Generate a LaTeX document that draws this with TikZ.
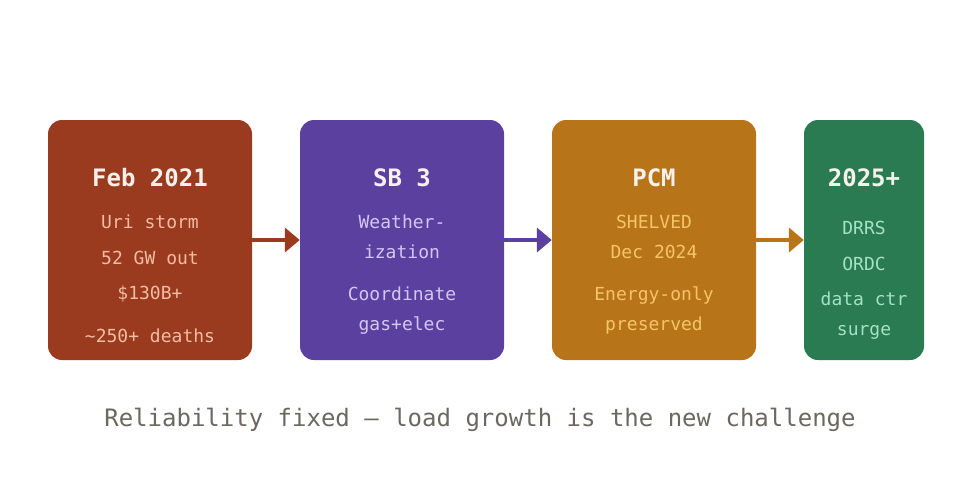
\documentclass[tikz,border=0pt]{standalone}
\usepackage{fontspec}
\setmainfont{DejaVu Sans Mono}
\usetikzlibrary{arrows.meta}
\definecolor{cA}{HTML}{9A3A1E}
\definecolor{cB}{HTML}{5B40A0}
\definecolor{cC}{HTML}{B87418}
\definecolor{cD}{HTML}{2A7A52}
\definecolor{tA}{HTML}{F2BCA4}
\definecolor{tB}{HTML}{D4C6F2}
\definecolor{tC}{HTML}{F6C468}
\definecolor{tD}{HTML}{A4E2C4}
\definecolor{ttl}{HTML}{F8F0EA}
\definecolor{cap}{HTML}{6B6860}
\tikzset{
  card/.style={rounded corners=14pt, minimum height=240pt, inner sep=0pt, draw=none},
  ttext/.style={anchor=base, text=ttl, font=\fontsize{24}{24}\selectfont\bfseries, inner sep=0pt},
  stext/.style={anchor=base, font=\fontsize{18}{18}\selectfont, inner sep=0pt},
  conn/.style={line width=4pt, -{Triangle[length=15pt,width=24pt]}, shorten >=0pt}
}
\begin{document}
\begin{tikzpicture}[x=1pt,y=-1pt]
\useasboundingbox (0,0) rectangle (960,480);
\fill[white] (0,0) rectangle (960,480);
\node[card, fill=cA, minimum width=204pt] (b1) at (150,240) {};
\node[card, fill=cB, minimum width=204pt] (b2) at (402,240) {};
\node[card, fill=cC, minimum width=204pt] (b3) at (654,240) {};
\node[card, fill=cD, minimum width=120pt] (b4) at (864,240) {};
\draw[conn, cA] (b1.east) -- (b2.west);
\draw[conn, cB] (b2.east) -- (b3.west);
\draw[conn, cC] (b3.east) -- (b4.west);
% box 1
\node[ttext] (t1) at (150,186) {Feb 2021};
\node[stext, text=tA] (s11) at (150,228) {Uri storm};
\node[stext, text=tA] (s12) at (150,264) {52 GW out};
\node[stext, text=tA] (s13) at (150,299) {\$130B+};
\node[stext, text=tA] (s14) at (150,342) {\textasciitilde250+ deaths};
% box 2
\node[ttext] (t2) at (402,186) {SB 3};
\node[stext, text=tB] (s21) at (402,228) {Weather-};
\node[stext, text=tB] (s22) at (402,258) {ization};
\node[stext, text=tB] (s23) at (402,300) {Coordinate};
\node[stext, text=tB] (s24) at (402,330) {gas+elec};
% box 3
\node[ttext] (t3) at (654,186) {PCM};
\node[stext, text=tC] (s31) at (654,228) {SHELVED};
\node[stext, text=tC] (s32) at (654,258) {Dec 2024};
\node[stext, text=tC] (s33) at (654,300) {Energy-only};
\node[stext, text=tC] (s34) at (654,330) {preserved};
% box 4
\node[ttext] (t4) at (864,186) {2025+};
\node[stext, text=tD] (s41) at (864,234) {DRRS};
\node[stext, text=tD] (s42) at (864,270) {ORDC};
\node[stext, text=tD] (s43) at (864,305) {data ctr};
\node[stext, text=tD] (s44) at (864,335) {surge};
% caption
\node[anchor=base, text=cap, font=\fontsize{24}{24}\selectfont, inner sep=0pt] (cap) at (480,426) {Reliability fixed — load growth is the new challenge};
\end{tikzpicture}
\end{document}
